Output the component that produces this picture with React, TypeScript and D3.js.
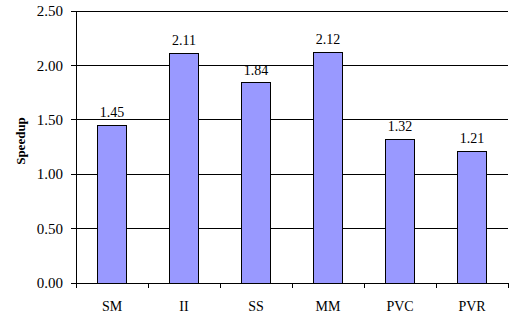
import React from 'react';
import * as d3 from 'd3';

const categories = ['SM', 'II', 'SS', 'MM', 'PVC', 'PVR'];
const speedups = [1.45, 2.11, 1.84, 2.12, 1.32, 1.21];
const yTicks = [0, 0.5, 1, 1.5, 2, 2.5];

const W = 509;
const H = 316;
const margin = { top: 11, right: 1, bottom: 33, left: 76 };

export default function App() {
  const innerW = W - margin.left - margin.right;
  const innerH = H - margin.top - margin.bottom;

  const x = d3.scaleBand().domain(categories).range([0, innerW]).padding(0);
  const y = d3.scaleLinear().domain([0, 2.5]).range([innerH, 0]);
  const barW = x.bandwidth() * 0.4;
  const font = '"Liberation Serif", "Times New Roman", serif';

  return (
    <svg width={W} height={H} style={{ position: 'absolute', left: 0, top: 0 }} fontFamily={font}>
      <g transform={`translate(${margin.left},${margin.top})`}>
        {/* gridlines */}
        {yTicks.slice(1).map((t) => (
          <line key={t} x1={0} x2={innerW} y1={y(t)} y2={y(t)} stroke="#000" strokeWidth={1} shapeRendering="crispEdges" />
        ))}
        {/* bars */}
        {categories.map((c, i) => (
          <g key={c}>
            <rect
              x={x(c)! + (x.bandwidth() - barW) / 2}
              y={y(speedups[i])}
              width={barW}
              height={innerH - y(speedups[i])}
              fill="#9999ff"
              stroke="#000"
              strokeWidth={1}
              shapeRendering="crispEdges"
            />
            <text
              x={x(c)! + x.bandwidth() / 2}
              y={y(speedups[i]) - 8}
              textAnchor="middle"
              fontSize={14}
            >
              {speedups[i].toFixed(2)}
            </text>
          </g>
        ))}
        {/* y axis */}
        <line x1={0} x2={0} y1={0} y2={innerH} stroke="#000" shapeRendering="crispEdges" />
        {yTicks.map((t) => (
          <g key={t} transform={`translate(0,${y(t)})`}>
            <line x1={-5} x2={0} stroke="#000" shapeRendering="crispEdges" />
            <text x={-13} dy="0.35em" textAnchor="end" fontSize={15}>
              {t.toFixed(2)}
            </text>
          </g>
        ))}
        {/* x axis */}
        <line x1={0} x2={innerW} y1={innerH} y2={innerH} stroke="#000" shapeRendering="crispEdges" />
        {categories.map((c) => (
          <line key={c} x1={x(c)!} x2={x(c)!} y1={innerH} y2={innerH + 5} stroke="#000" shapeRendering="crispEdges" />
        ))}
        <line x1={innerW} x2={innerW} y1={innerH} y2={innerH + 5} stroke="#000" shapeRendering="crispEdges" />
        {categories.map((c) => (
          <text key={c} x={x(c)! + x.bandwidth() / 2} y={innerH + 28} textAnchor="middle" fontSize={14}>
            {c}
          </text>
        ))}
        {/* y label */}
        <text
          transform={`translate(${-51},${130}) rotate(-90)`}
          textAnchor="middle"
          fontSize={13}
          fontWeight="bold"
        >
          Speedup
        </text>
      </g>
    </svg>
  );
}
